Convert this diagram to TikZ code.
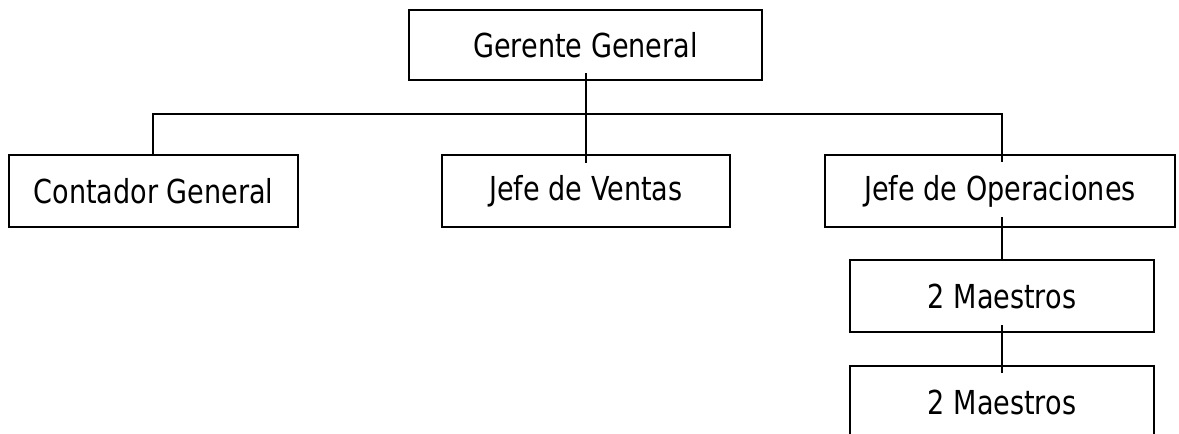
\documentclass[tikz,border=0pt]{standalone}
\usepackage{fontspec}
\setmainfont[FakeStretch=0.82]{DejaVu Sans}
\begin{document}
\begin{tikzpicture}[x=1pt,y=-1pt,
  box/.style={draw=black, line width=2pt, fill=none, inner sep=0pt,
    font=\fontsize{33}{38}\selectfont},
  link/.style={draw=black, line width=2pt}]
\clip (0,0) rectangle (1179,434);
\useasboundingbox (0,0) rectangle (1179,434);
\node[box, minimum width=353pt, minimum height=70pt] (gg) at (585.5,45) {Gerente General};
\node[box, minimum width=289pt, minimum height=72pt] (cg) at (153.5,191) {Contador General};
\node[box, minimum width=288pt, minimum height=72pt] (jv) at (586,191) {Jefe de Ventas};
\node[box, minimum width=350pt, minimum height=72pt] (jo) at (1000,191) {Jefe de Operaciones};
\node[box, minimum width=304pt, minimum height=72pt] (m1) at (1002,296) {2 Maestros};
\node[box, minimum width=304pt, minimum height=72pt] (m2) at (1002,402) {2 Maestros};
% connectors
\coordinate (ggb) at (586,73);
\coordinate (jvt) at (586,163);
\coordinate (hl) at (153,114);
\coordinate (hr) at (1002,114);
\coordinate (jot) at (1002,162);
\coordinate (job) at (1002,217);
\coordinate (m1b) at (1002,325);
\coordinate (m2t) at (1002,373);
\draw[link] (ggb) -- (jvt);
\draw[link] (cg.north -| hl) -- (hl) -- (hr) -- (jot);
\draw[link] (job) -- (m1.north -| job);
\draw[link] (m1b) -- (m2t);
\end{tikzpicture}
\end{document}
